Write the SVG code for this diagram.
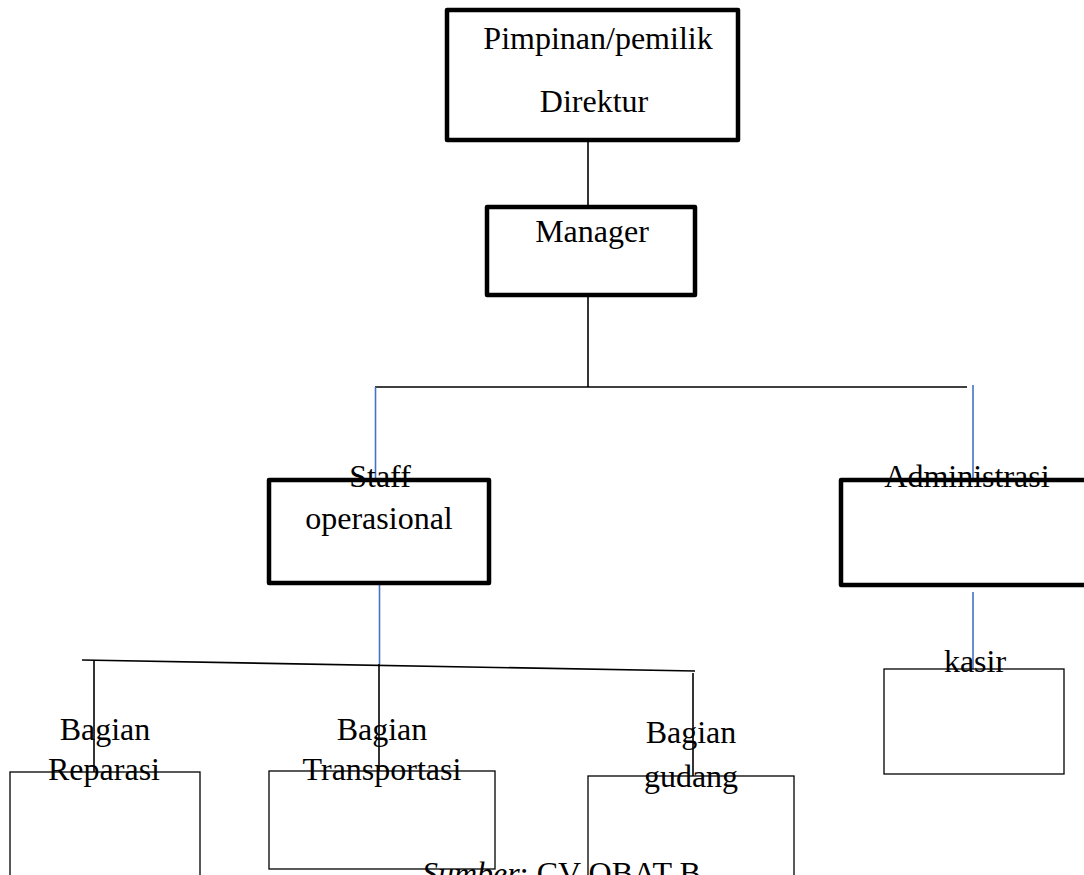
<svg xmlns="http://www.w3.org/2000/svg" width="1084" height="875" viewBox="0 0 1084 875">
<style>
text{font-family:"Liberation Serif","Times New Roman",serif;font-size:32px;fill:#000;text-anchor:middle}
.thick{fill:#fff;stroke:#000;stroke-width:4.5;stroke-linejoin:round}
.thin{fill:#fff;stroke:#000;stroke-width:1.3}
.k{stroke:#000;stroke-width:1.6;fill:none}
.b{stroke:#4472C4;stroke-width:1.6;fill:none}
</style>
<rect width="1084" height="875" fill="#fff"/>
<g id="connectors">
<line class="k" x1="588" y1="140" x2="588" y2="207"/>
<line class="k" x1="588" y1="295" x2="588" y2="387"/>
<line class="k" x1="375" y1="387" x2="967" y2="387"/>
<line class="b" x1="375.5" y1="387" x2="375.5" y2="478"/>
<line class="b" x1="973" y1="385" x2="973" y2="478"/>
<line class="b" x1="379.5" y1="585" x2="379.5" y2="664"/>
<line class="b" x1="973" y1="592" x2="973" y2="670"/>
<line class="k" x1="82" y1="660" x2="695" y2="671"/>
<line class="k" x1="94" y1="661" x2="94" y2="772"/>
<line class="k" x1="379" y1="664" x2="379" y2="771"/>
<line class="k" x1="693" y1="673" x2="693" y2="776"/>
</g>
<g id="pimpinan">
<rect class="thick" x="447" y="10" width="291" height="130"/>
<text x="598" y="49">Pimpinan/pemilik</text>
<text x="594" y="112">Direktur</text>
</g>
<g id="manager">
<rect class="thick" x="487" y="207" width="208" height="88"/>
<text x="592" y="242">Manager</text>
</g>
<g id="staff">
<rect class="thick" x="269" y="480" width="220" height="103"/>
<text x="380" y="487">Staff</text>
<text x="379" y="529">operasional</text>
</g>
<g id="administrasi">
<rect class="thick" x="841" y="480" width="260" height="105"/>
<text x="967" y="487">Administrasi</text>
</g>
<g id="kasir">
<rect class="thin" x="884" y="669" width="180" height="105"/>
<text x="975" y="672">kasir</text>
</g>
<g id="reparasi">
<rect class="thin" x="10" y="772" width="190" height="120"/>
<text x="105" y="740">Bagian</text>
<text x="104" y="780">Reparasi</text>
</g>
<g id="transportasi">
<rect class="thin" x="269" y="771" width="226" height="98"/>
<text x="382" y="740">Bagian</text>
<text x="382" y="780">Transportasi</text>
</g>
<g id="gudang">
<rect class="thin" x="588" y="776" width="206" height="120"/>
<text x="691" y="743">Bagian</text>
<text x="691" y="787">gudang</text>
</g>
<g id="sumber">
<text x="422" y="884" style="text-anchor:start"><tspan font-style="italic">Sumber</tspan>: CV OBAT B</text>
</g>
</svg>
